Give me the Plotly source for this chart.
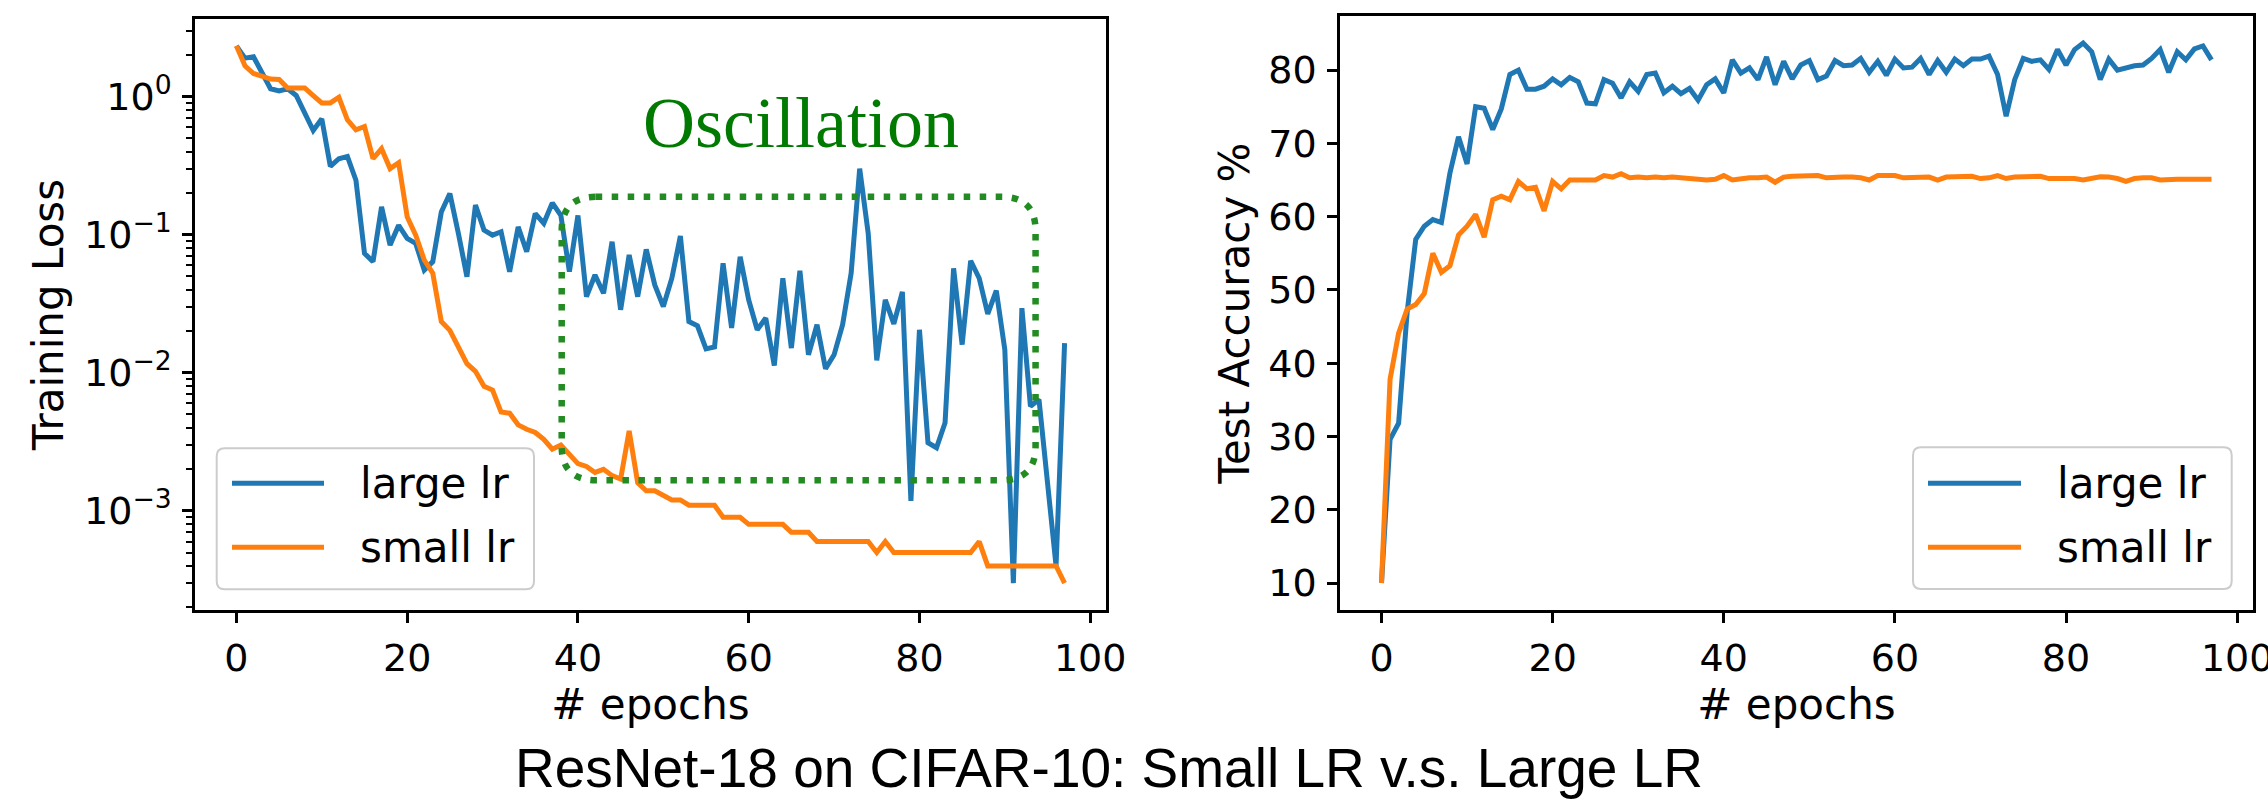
import numpy as np
import plotly.graph_objects as go

W, H = 2268, 799

# ---------------- data ----------------
epochs = list(range(98))

loss_large = [2.33, 1.90, 1.94, 1.49, 1.14, 1.10, 1.14, 1.02, 0.758, 0.568,
              0.690, 0.313, 0.355, 0.369, 0.248, 0.0733, 0.0638, 0.159, 0.0841, 0.117,
              0.094, 0.0865, 0.0555, 0.0638, 0.146, 0.199, 0.102, 0.0497, 0.164, 0.108,
              0.0993, 0.105, 0.054, 0.114, 0.0753, 0.142, 0.121, 0.170, 0.138, 0.054,
              0.138, 0.0356, 0.0511, 0.0377, 0.0889, 0.0286, 0.0713, 0.0356, 0.0783, 0.0433,
              0.0302, 0.0484, 0.0977, 0.0235, 0.0219, 0.0149, 0.0154, 0.0621, 0.0211, 0.0693,
              0.0337, 0.0205, 0.0249, 0.0113, 0.0484, 0.0151, 0.0549, 0.0135, 0.0223, 0.0107,
              0.0135, 0.0223, 0.0526, 0.301, 0.102, 0.0123, 0.0337, 0.0226, 0.0385, 0.00118,
              0.0205, 0.00312, 0.00287, 0.00435, 0.0571, 0.0160, 0.0648, 0.0484, 0.0267, 0.0394,
              0.0147, 0.0003, 0.0294, 0.00573, 0.00641, 0.00162, 0.0004, 0.0164]

loss_small = [2.33, 1.67, 1.47, 1.39, 1.34, 1.33, 1.155, 1.155, 1.155, 1.017,
              0.900, 0.900, 0.989, 0.679, 0.574, 0.607, 0.355, 0.419, 0.301, 0.332,
              0.135, 0.0993, 0.0656, 0.0526, 0.0235, 0.0203, 0.0151, 0.01165, 0.01025, 0.0080,
              0.0075, 0.0052, 0.0051, 0.0042, 0.0039, 0.0037, 0.0033, 0.0028, 0.0030, 0.0026,
              0.0022, 0.0021, 0.0019, 0.0020, 0.0018, 0.0017, 0.0038, 0.0016, 0.0014, 0.0014,
              0.0013, 0.0012, 0.0012, 0.0011, 0.0011, 0.0011, 0.0011, 0.0009, 0.0009, 0.0009,
              0.0008, 0.0008, 0.0008, 0.0008, 0.0008, 0.0007, 0.0007, 0.0007, 0.0006, 0.0006,
              0.0006, 0.0006, 0.0006, 0.0006, 0.0006, 0.0005, 0.0006, 0.0005, 0.0005, 0.0005,
              0.0005, 0.0005, 0.0005, 0.0005, 0.0005, 0.0005, 0.0005, 0.0006, 0.0004, 0.0004,
              0.0004, 0.0004, 0.0004, 0.0004, 0.0004, 0.0004, 0.0004, 0.0003]

acc_large = [10.0, 29.6, 31.8, 47.0, 56.9, 58.7, 59.6, 59.2, 65.95, 70.9,
             67.2, 75.0, 74.8, 71.9, 74.7, 79.4, 80.0, 77.4, 77.4, 77.8,
             78.8, 78.0, 79.0, 78.4, 75.5, 75.4, 78.7, 78.2, 76.2, 78.4,
             77.1, 79.4, 79.6, 76.9, 77.8, 76.8, 77.5, 75.9, 78.0, 78.8,
             76.9, 81.4, 79.6, 80.3, 78.7, 81.8, 78.0, 81.2, 78.8, 80.7,
             81.3, 78.7, 79.2, 81.3, 80.6, 80.7, 81.6, 79.7, 81.2, 79.3,
             81.5, 80.3, 80.4, 81.6, 79.4, 81.3, 79.7, 81.5, 80.6, 81.5,
             81.5, 81.9, 79.4, 73.7, 78.7, 81.6, 81.2, 81.4, 80.1, 82.8,
             80.7, 82.8, 83.7, 82.5, 78.7, 81.5, 80.0, 80.3, 80.6, 80.7,
             81.6, 82.8, 79.7, 82.5, 81.4, 82.9, 83.3, 81.4]

acc_small = [10.0, 37.8, 44.1, 47.4, 48.0, 49.5, 55.0, 52.4, 53.3, 57.5,
             58.7, 60.3, 57.2, 62.3, 62.8, 62.3, 64.8, 63.8, 64.0, 60.8,
             64.8, 63.8, 65.0, 65.0, 65.0, 65.0, 65.6, 65.4, 65.85, 65.3,
             65.4, 65.3, 65.4, 65.3, 65.4, 65.3, 65.3, 65.2, 65.0, 65.1,
             65.6, 65.0, 65.2, 65.3, 65.3, 65.4, 64.7, 65.4, 65.5, 65.5,
             65.5, 65.6, 65.3, 65.4, 65.4, 65.4, 65.3, 65.0, 65.6, 65.6,
             65.6, 65.3, 65.3, 65.3, 65.4, 65.0, 65.4, 65.45, 65.5, 65.5,
             65.2, 65.3, 65.6, 65.2, 65.4, 65.4, 65.4, 65.5, 65.2, 65.25,
             65.3, 65.2, 65.0, 65.25, 65.45, 65.4, 65.2, 64.8, 65.2, 65.3,
             65.3, 65.0, 65.1, 65.1, 65.1, 65.1, 65.1, 65.1]

series_names = ["large lr", "small lr"]
epoch_ticks = [0, 20, 40, 60, 80, 100]
acc_ticks = [10, 20, 30, 40, 50, 60, 70, 80]
loss_tickvals = [1e-3, 1e-2, 1e-1, 1e0]
loss_ticktext = ["10<sup>\u22123</sup>", "10<sup>\u22122</sup>", "10<sup>\u22121</sup>", "10<sup>0</sup>"]
loss_minor = [m * 10.0 ** k for k in range(-4, 1) for m in range(2, 10)]

title_text = "ResNet-18 on CIFAR-10: Small LR v.s. Large LR"
osc_text = "Oscillation"
# oscillation region (epochs, loss)
osc_x = [38.1, 93.6]
osc_y = [1.67e-3, 0.188]

BLUE, ORANGE = "#1f77b4", "#ff7f0e"
colors = [BLUE, ORANGE]

# ---------------- layout geometry (pixels) ----------------
L_AX = (195, 1106, 19, 610)   # x0, x1, ytop, ybottom
R_AX = (1340, 2253, 16, 610)


def dom_x(a):
    return [a[0] / W, a[1] / W]


def dom_y(a):
    return [1 - a[3] / H, 1 - a[2] / H]


def auto_range(vals, m=0.05):
    lo, hi = float(np.min(vals)), float(np.max(vals))
    d = (hi - lo) * m
    return [lo - d, hi + d]


xr = auto_range(epochs)
yr_loss = auto_range(np.log10(loss_large + loss_small))
yr_acc = auto_range(acc_large + acc_small)

FONT = "DejaVu Sans"
AX_FONT = dict(family=FONT, size=42, color="black")
TICK_FONT = dict(family=FONT, size=38, color="black")

fig = go.Figure()
for vals, name, c in zip([loss_large, loss_small], series_names, colors):
    fig.add_trace(go.Scatter(x=epochs, y=vals, mode="lines", name=name,
                             line=dict(color=c, width=5), showlegend=False,
                             xaxis="x", yaxis="y"))
for vals, name, c in zip([acc_large, acc_small], series_names, colors):
    fig.add_trace(go.Scatter(x=epochs, y=vals, mode="lines", name=name,
                             line=dict(color=c, width=5), showlegend=False,
                             xaxis="x2", yaxis="y2"))

common_axis = dict(showline=True, linecolor="black", linewidth=2.5, mirror=True,
                   ticks="outside", ticklen=10, tickwidth=2.5, tickcolor="black",
                   showgrid=False, zeroline=False, tickfont=TICK_FONT, automargin=False,
                   ticklabeloverflow="allow", ticklabelstandoff=3)

fig.update_layout(
    width=W, height=H, autosize=False,
    margin=dict(l=0, r=0, t=0, b=0, pad=0),
    paper_bgcolor="white", plot_bgcolor="white",
    showlegend=False,
    xaxis=dict(domain=dom_x(L_AX), range=xr, tickvals=epoch_ticks, anchor="y",
               title=dict(text="# epochs", font=AX_FONT, standoff=8), **common_axis),
    yaxis=dict(domain=dom_y(L_AX), type="log", range=yr_loss, anchor="x",
               tickvals=loss_tickvals, ticktext=loss_ticktext,
               minor=dict(tickvals=loss_minor, ticks="outside", ticklen=6, tickwidth=2,
                          tickcolor="black", showgrid=False),
               title=dict(text="Training Loss", font=AX_FONT, standoff=8), **common_axis),
    xaxis2=dict(domain=dom_x(R_AX), range=xr, tickvals=epoch_ticks, anchor="y2",
                title=dict(text="# epochs", font=AX_FONT, standoff=8), **common_axis),
    yaxis2=dict(domain=dom_y(R_AX), range=yr_acc, anchor="x2", tickvals=acc_ticks,
                title=dict(text="Test Accuracy %", font=AX_FONT, standoff=6), **common_axis),
    title=dict(text=title_text, font=dict(family="Liberation Sans, Arial", size=55, color="black"),
               x=1109 / W, xanchor="center", y=1 - 768 / H, yanchor="middle",
               xref="paper", yref="container"),
)


# ---- helpers for shapes ----
def rounded_path(x0, x1, ytop, ybot, r):
    """Rounded rectangle in paper coords from pixel box."""
    X0, X1 = x0 / W, x1 / W
    YT, YB = 1 - ytop / H, 1 - ybot / H
    rx, ry = r / W, r / H
    return (f"M {X0+rx},{YT} L {X1-rx},{YT} Q {X1},{YT} {X1},{YT-ry} "
            f"L {X1},{YB+ry} Q {X1},{YB} {X1-rx},{YB} "
            f"L {X0+rx},{YB} Q {X0},{YB} {X0},{YB+ry} "
            f"L {X0},{YT-ry} Q {X0},{YT} {X0+rx},{YT} Z")


def x_to_px(x, ax, rng):
    return ax[0] + (x - rng[0]) / (rng[1] - rng[0]) * (ax[1] - ax[0])


def logy_to_px(y, ax, rng):
    v = np.log10(y)
    return ax[3] - (v - rng[0]) / (rng[1] - rng[0]) * (ax[3] - ax[2])


# oscillation box (data coords -> pixels through the axis scales)
ox0, ox1 = x_to_px(osc_x[0], L_AX, xr), x_to_px(osc_x[1], L_AX, xr)
oyb, oyt = logy_to_px(osc_y[0], L_AX, yr_loss), logy_to_px(osc_y[1], L_AX, yr_loss)
fig.add_shape(type="path", xref="paper", yref="paper",
              path=rounded_path(ox0, ox1, oyt, oyb, 34),
              line=dict(color="#228B22", width=6.5, dash="6.5px,9.5px"),
              fillcolor="rgba(0,0,0,0)", layer="above")
fig.add_annotation(text=osc_text, xref="paper", yref="paper",
                   x=800.8 / W, y=1 - 123 / H, xanchor="center", yanchor="middle",
                   showarrow=False,
                   font=dict(family="Liberation Serif", size=72, color="#007a00"))

# legends (drawn as in matplotlib: rounded frame, long line samples)
legends = [
    dict(box=(216.7, 534.0, 448.3, 589.3), line=(232, 324), text_x=358),
    dict(box=(1913.0, 2231.7, 447.3, 589.0), line=(1928, 2021), text_x=2055),
]
rows_y = [483.3, 547.3]
for lg in legends:
    bx0, bx1, byt, byb = lg["box"]
    fig.add_shape(type="path", xref="paper", yref="paper",
                  path=rounded_path(bx0, bx1, byt, byb, 8),
                  line=dict(color="#cccccc", width=2),
                  fillcolor="rgba(255,255,255,0.8)", layer="above")
    for name, c, ry in zip(series_names, colors, rows_y):
        fig.add_shape(type="line", xref="paper", yref="paper",
                      x0=lg["line"][0] / W, x1=lg["line"][1] / W,
                      y0=1 - ry / H, y1=1 - ry / H,
                      line=dict(color=c, width=5), layer="above")
        fig.add_annotation(text=name, xref="paper", yref="paper",
                           x=lg["text_x"] / W, y=1 - ry / H,
                           xanchor="left", yanchor="middle", showarrow=False,
                           font=dict(family=FONT, size=42, color="black"))

fig.write_html("out.html", config={"displayModeBar": False},
               post_script="document.body.style.margin='0';document.body.style.overflow='hidden';")
